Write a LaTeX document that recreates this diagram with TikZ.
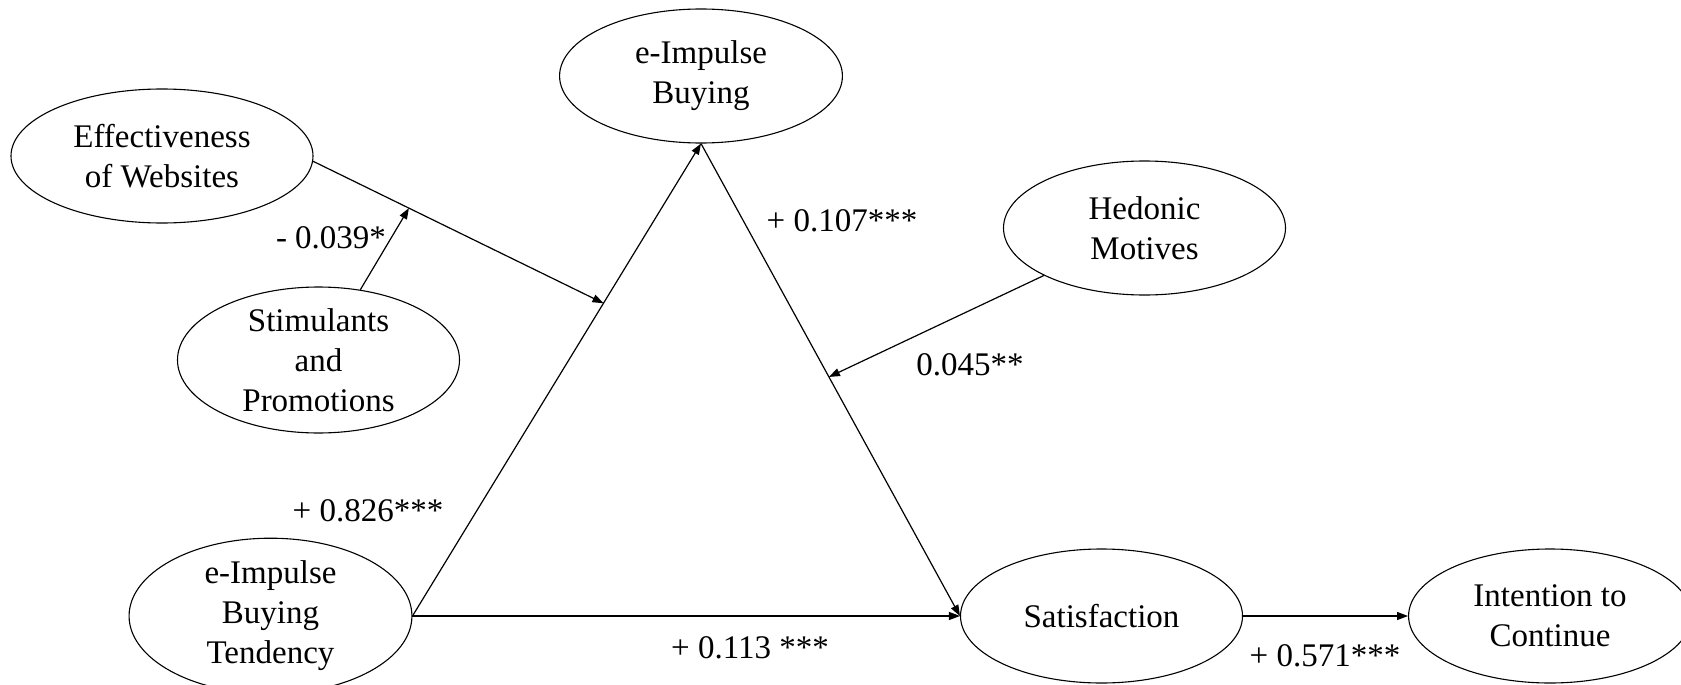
\documentclass[tikz,border=0pt]{standalone}
\usepackage{fontspec}
\setmainfont{Liberation Serif}
\usetikzlibrary{shapes.geometric,arrows.meta,calc}
\tikzset{
  construct/.style={draw, ellipse, line width=1.1pt, minimum width=282pt, minimum height=134pt,
    inner sep=0pt, align=center, font=\fontsize{33}{40}\selectfont},
  path/.style={line width=1.2pt, -{Triangle[length=11pt,width=8pt]}},
  coef/.style={font=\fontsize{33}{40}\selectfont, inner sep=0pt}
}
\begin{document}
\begin{tikzpicture}[x=1pt,y=-1pt]
\useasboundingbox (0,0) rectangle (1681,685);
\node[construct] (eib) at (701,76) {\raisebox{-4pt}{\parbox{200pt}{\centering e-Impulse\\Buying}}};
\node[construct, minimum width=302pt] (ew) at (162,156) {Effectiveness\\of Websites};
\node[construct] (hm) at (1144.5,228) {Hedonic\\Motives};
\node[construct] (sp) at (318.5,360) {Stimulants\\and\\Promotions};
\node[construct] (eibt) at (270.5,616) {\raisebox{-4pt}{\parbox{200pt}{\centering e-Impulse\\Buying\\Tendency}}};
\node[construct] (sat) at (1101.5,616) {Satisfaction};
\node[construct] (ic) at (1550,616) {\raisebox{-2pt}{\parbox{200pt}{\centering Intention to\\Continue}}};

\coordinate (m1) at ($(eibt.east)!0.662!(eib.south)$);
\coordinate (m2) at ($(ew.-2)!0.33!(m1)$);
\coordinate (m3) at ($(eib.south)!0.494!(sat.west)$);

\draw[path] (eibt.east) -- (eib.south);
\draw[path] (eib.south) -- (sat.west);
\draw[path] (eibt.east) -- (sat.west);
\draw[path] (sat.east) -- (ic.west);
\draw[path] (ew.-2) -- (m1);
\draw[path] (sp) -- (m2);
\draw[path] (hm) -- (m3);

\node[coef] (l1) at (331,238) {- 0.039*};
\node[coef] (l2) at (842,221) {+ 0.107***};
\node[coef] (l3) at (970,365) {0.045**};
\node[coef] (l4) at (368,511) {+ 0.826***};
\node[coef] (l5) at (750,648) {+ 0.113 ***};
\node[coef] (l6) at (1325,656) {+ 0.571***};
\end{tikzpicture}
\end{document}
